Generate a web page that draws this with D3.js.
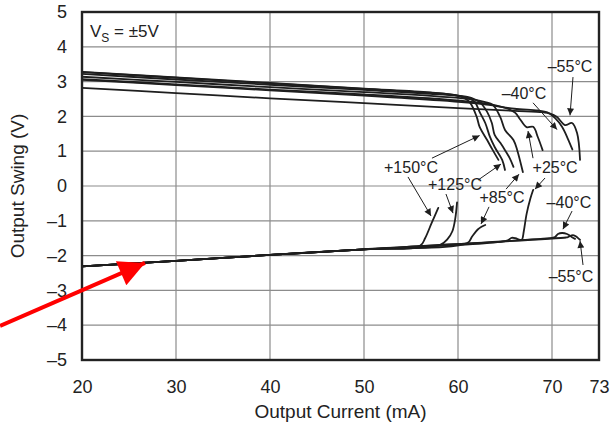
<!DOCTYPE html>
<html>
<head>
<meta charset="utf-8">
<script src="https://cdn.jsdelivr.net/npm/d3@7/dist/d3.min.js"></script>
<style>
  html, body { margin: 0; padding: 0; background: #fff; }
  svg { display: block; }
  text { font-family: "Liberation Sans", Arial, Helvetica, sans-serif; fill: #222; }
</style>
</head>
<body>
<svg id="chart" width="613" height="428"></svg>
<script>
// Output swing vs output current, V_S = ±5V

// x axis: the last division is labelled 73
const xTickValues = [20, 30, 40, 50, 60, 70, 73];
const xTickLabels = ["20", "30", "40", "50", "60", "70", "73"];
const yTickValues = [-5, -4, -3, -2, -1, 0, 1, 2, 3, 4, 5];
const yTickLabels = ["–5", "–4", "–3", "–2", "–1", "0", "1", "2", "3", "4", "5"];

// positive swing traces [current mA, volts]
const pos150 = [[20,3.28],[30,3.12],[40,2.96],[50,2.80],[57,2.69],[59.5,2.62],[60.7,2.52],[61.3,2.39],[62,1.98],[62.3,1.70],[63.1,1.32],[63.7,1.03],[64.3,0.75]];
const pos125 = [[20,3.27],[30,3.11],[40,2.95],[50,2.79],[57,2.68],[60,2.60],[61.3,2.50],[61.8,2.41],[62.3,2.13],[62.9,1.81],[63.4,1.41],[63.9,1.12],[64.7,0.75],[65.0,0.46]];
const pos85a = [[20,3.22],[30,3.06],[40,2.91],[50,2.76],[58,2.63],[61,2.56],[62.3,2.41],[63.1,2.13],[63.6,1.81],[63.9,1.47],[64.5,1.24],[65,1.03],[65.5,0.80],[65.9,0.55]];
const pos85b = [[20,3.14],[30,2.99],[40,2.84],[50,2.70],[58,2.57],[61.5,2.49],[62.9,2.41],[63.7,2.33],[64.5,1.98],[65,1.61],[65.9,1.32],[66.3,1.03],[66.9,0.40]];
const pos25  = [[20,3.07],[30,2.92],[40,2.77],[50,2.63],[58,2.50],[62,2.40],[64,2.32],[65.3,2.22],[66.1,2.10],[66.6,1.92],[67.3,1.69],[68.0,1.70],[68.5,1.40],[69,1.03]];
const posM40 = [[20,3.05],[30,2.90],[40,2.75],[50,2.60],[58,2.46],[63,2.34],[66,2.22],[68.5,2.17],[69.5,2.12],[70.2,1.95],[70.64,1.70],[71.02,1.35],[71.3,1.05]];
const posM55 = [[20,2.82],[30,2.67],[40,2.52],[50,2.38],[60,2.24],[66,2.16],[69.0,2.12],[69.8,2.08],[70.32,1.98],[70.83,1.75],[71.28,1.81],[71.6,1.52],[71.79,0.75]];

// negative swing traces [current mA, volts]
const neg150 = [[20,-2.31],[30,-2.15],[40,-1.98],[50,-1.82],[55.96,-1.72],[56.5,-1.50],[57.2,-1.06],[57.9,-0.63]];
const neg125 = [[20,-2.31],[30,-2.15],[40,-1.98],[50,-1.82],[58.1,-1.69],[58.9,-1.52],[59.4,-1.30],[59.7,-0.95],[59.9,-0.47]];
const neg85  = [[20,-2.31],[30,-2.15],[40,-1.98],[50,-1.82],[61,-1.64],[61.5,-1.45],[62.1,-1.25],[62.5,-1.17],[62.9,-1.12]];
const neg25  = [[20,-2.31],[30,-2.15],[40,-1.98],[50,-1.82],[65.2,-1.57],[65.7,-1.49],[66.1,-1.50],[66.6,-1.55],[66.8,-1.54],[67.0,-1.30],[67.3,-0.80],[67.7,-0.36],[68.0,-0.11]];
const negM40 = [[20,-2.31],[30,-2.15],[40,-1.98],[50,-1.82],[70,-1.49],[70.19,-1.47],[70.38,-1.38],[70.64,-1.35],[70.96,-1.38],[71.28,-1.47],[71.47,-1.52]];
const negM55 = [[20,-2.31],[30,-2.15],[40,-1.98],[50,-1.82],[70.9,-1.48],[71.02,-1.47],[71.34,-1.41],[71.6,-1.47],[71.79,-1.55]];

const traces = [pos150, pos125, pos85a, pos85b, pos25, posM40, posM55,
                neg150, neg125, neg85, neg25, negM40, negM55];

// temperature callouts: label anchor and arrows [from, to] in data units
const labelText = ["–55°C", "–40°C", "+150°C", "+125°C", "+85°C", "+25°C", "–40°C", "–55°C"];
const labelAt = [[71.15,3.42],[67.02,2.67],[55.0,0.52],[59.68,0.03],[64.68,-0.34],[70.2,0.52],[71.08,-0.46],[71.21,-2.61]];
const labelArrows = [
  [[[71.34,3.13],[71.15,2.03]]],
  [[[67.98,2.39],[70.32,1.62]]],
  [[[57.23,0.80],[62.3,1.45]], [[54.68,0.26],[57.13,-0.86]]],
  [[[62.13,0.17],[64.57,0.63]], [[58.72,-0.23],[59.47,-0.78]]],
  [[[65.11,-0.09],[66.49,0.34]], [[63.30,-0.60],[62.45,-1.09]]],
  [[[67.98,0.80],[67.45,1.58]], [[69.26,0.23],[68.19,-0.09]]],
  [[[71.28,-0.72],[70.70,-1.24]]],
  [[[71.98,-2.27],[71.79,-1.58]]]
];

const svg = d3.select("#chart");
const x = d3.scaleLinear().domain([20, 70, 73]).range([82, 552, 599]);
const y = d3.scaleLinear().domain([-5, 5]).range([360, 12]);

// grid
const grid = svg.append("g");
grid.selectAll("line.v").data(xTickValues.slice(1, -1)).join("line")
  .attr("x1", d => x(d)).attr("x2", d => x(d))
  .attr("y1", y(5)).attr("y2", y(-5))
  .attr("stroke", "#8c8c8c").attr("stroke-width", 1.2);
grid.selectAll("line.h").data(yTickValues.slice(1, -1)).join("line")
  .attr("y1", d => y(d)).attr("y2", d => y(d))
  .attr("x1", x(20)).attr("x2", x(73))
  .attr("stroke", "#8c8c8c").attr("stroke-width", 1.2);

// axes (labels only)
const xAxis = d3.axisBottom(x).tickValues(xTickValues).tickSize(0).tickPadding(20)
  .tickFormat((d, i) => xTickLabels[i]);
const gx = svg.append("g").attr("transform", `translate(0,${y(-5)})`).call(xAxis);
const yAxis = d3.axisLeft(y).tickValues(yTickValues).tickSize(0).tickPadding(15)
  .tickFormat((d, i) => yTickLabels[i]);
const gy = svg.append("g").attr("transform", `translate(${x(20)},0)`).call(yAxis);
[gx, gy].forEach(g => {
  g.select(".domain").remove();
  g.selectAll("text").attr("font-size", 18).attr("fill", "#222")
    .attr("font-family", "'Liberation Sans', Arial, sans-serif");
});

// traces
const line = d3.line().x(d => x(d[0])).y(d => y(d[1])).curve(d3.curveCatmullRom.alpha(0.5));
svg.append("g").selectAll("path").data(traces).join("path")
  .attr("d", line).attr("fill", "none")
  .attr("stroke", "#1e1e1e").attr("stroke-width", 1.8)
  .attr("stroke-linejoin", "round").attr("stroke-linecap", "round");

// frame
svg.append("rect")
  .attr("x", x(20)).attr("y", y(5))
  .attr("width", x(73) - x(20)).attr("height", y(-5) - y(5))
  .attr("fill", "none").attr("stroke", "#222").attr("stroke-width", 2.4);

// supply label
const vs = svg.append("text").attr("x", x(20) + 8).attr("y", y(5) + 25).attr("font-size", 17);
vs.append("tspan").text("V");
vs.append("tspan").attr("font-size", 12).attr("dy", 5).text("S");
vs.append("tspan").attr("dy", -5).text(" = ±5V");

// callouts
const defs = svg.append("defs");
defs.append("marker").attr("id", "ah").attr("viewBox", "0 0 10 10")
  .attr("refX", 10).attr("refY", 5).attr("markerWidth", 9).attr("markerHeight", 7)
  .attr("markerUnits", "userSpaceOnUse").attr("orient", "auto")
  .append("path").attr("d", "M0,0 L10,5 L0,10 Z").attr("fill", "#1e1e1e");

const callouts = svg.append("g");
labelText.forEach((t, i) => {
  callouts.append("text")
    .attr("x", x(labelAt[i][0])).attr("y", y(labelAt[i][1]))
    .attr("text-anchor", "middle").attr("dominant-baseline", "central")
    .attr("font-size", 16).text(t);
  labelArrows[i].forEach(a => {
    callouts.append("line")
      .attr("x1", x(a[0][0])).attr("y1", y(a[0][1]))
      .attr("x2", x(a[1][0])).attr("y2", y(a[1][1]))
      .attr("stroke", "#1e1e1e").attr("stroke-width", 1)
      .attr("marker-end", "url(#ah)");
  });
});

// axis titles
svg.append("text").attr("x", (x(20) + x(73)) / 2).attr("y", 418)
  .attr("text-anchor", "middle").attr("font-size", 19).text("Output Current (mA)");
svg.append("text").attr("transform", `translate(24,${y(0)}) rotate(-90)`)
  .attr("text-anchor", "middle").attr("font-size", 19).text("Output Swing (V)");

// red pointer onto the negative swing line
const pointerFrom = [11.28, -4.02];
const pointerTo = [26.7, -2.21];
defs.append("marker").attr("id", "redhead").attr("viewBox", "0 0 10 10")
  .attr("refX", 10).attr("refY", 5).attr("markerWidth", 32).attr("markerHeight", 26)
  .attr("markerUnits", "userSpaceOnUse").attr("orient", "auto")
  .append("path").attr("d", "M0,0 L10,5 L0,10 Z").attr("fill", "#ff0000");
svg.append("line")
  .attr("x1", x(pointerFrom[0])).attr("y1", y(pointerFrom[1]))
  .attr("x2", x(pointerTo[0])).attr("y2", y(pointerTo[1]))
  .attr("stroke", "#ff0000").attr("stroke-width", 4)
  .attr("marker-end", "url(#redhead)");
</script>
</body>
</html>
